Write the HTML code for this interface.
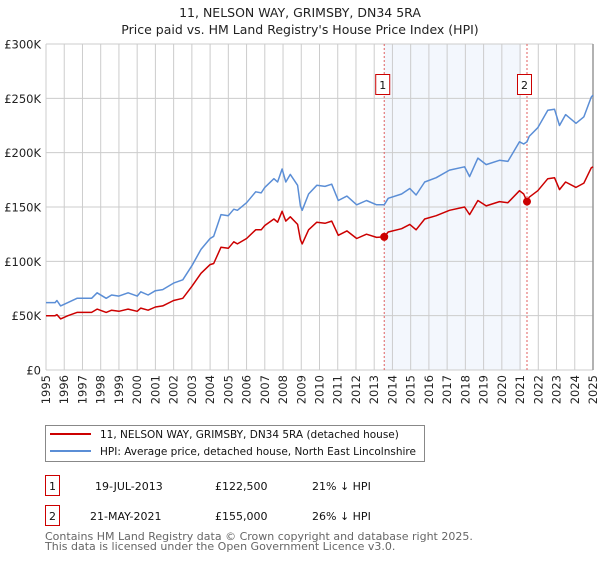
<!DOCTYPE html>
<html><head><meta charset="utf-8"><style>
body{margin:0;background:#fff;font-family:"DejaVu Sans","Liberation Sans",sans-serif;}
svg text{font-family:"DejaVu Sans","Liberation Sans",sans-serif;}
</style></head><body>
<svg id="chart" width="600" height="560" xmlns="http://www.w3.org/2000/svg">
<text x="300" y="17" text-anchor="middle" font-size="12.5" fill="#222">11, NELSON WAY, GRIMSBY, DN34 5RA</text>
<text x="300" y="34" text-anchor="middle" font-size="12.5" fill="#222">Price paid vs. HM Land Registry's House Price Index (HPI)</text>
<g id="plot"></g>
<g>
<rect x="45.5" y="425.5" width="379" height="36" fill="#fff" stroke="#888"/>
<line x1="50" y1="434" x2="91" y2="434" stroke="#cc0000" stroke-width="2"/>
<text x="100" y="438" font-size="10.5" fill="#111">11, NELSON WAY, GRIMSBY, DN34 5RA (detached house)</text>
<line x1="50" y1="451" x2="91" y2="451" stroke="#5b8ed6" stroke-width="2"/>
<text x="100" y="455" font-size="10.5" fill="#111" textLength="316" lengthAdjust="spacingAndGlyphs">HPI: Average price, detached house, North East Lincolnshire</text>
</g>
<g font-size="11" fill="#111">
<rect x="45.5" y="475.5" width="14" height="20" fill="#fff" stroke="#cc0000"/>
<text x="52.5" y="490" text-anchor="middle">1</text>
<text x="95" y="490">19-JUL-2013</text>
<text x="215" y="490">£122,500</text>
<text x="312" y="490">21% ↓ HPI</text>
</g>
<g font-size="11" fill="#111">
<rect x="45.5" y="505.5" width="14" height="20" fill="#fff" stroke="#cc0000"/>
<text x="52.5" y="520" text-anchor="middle">2</text>
<text x="90" y="520">21-MAY-2021</text>
<text x="215" y="520">£155,000</text>
<text x="312" y="520">26% ↓ HPI</text>
</g>
<text x="45" y="540" font-size="11" fill="#666">Contains HM Land Registry data © Crown copyright and database right 2025.</text>
<text x="45" y="550" font-size="11" fill="#666">This data is licensed under the Open Government Licence v3.0.</text>
</svg>
<script>
const hpiYears=[1995.0,1995.5,1995.6,1995.8,1996.2,1996.7,1997.5,1997.8,1998.3,1998.6,1999.0,1999.5,2000.0,2000.2,2000.6,2001.0,2001.4,2002.0,2002.5,2003.0,2003.5,2004.0,2004.2,2004.6,2005.0,2005.3,2005.5,2006.0,2006.5,2006.8,2007.0,2007.5,2007.7,2007.95,2008.15,2008.4,2008.8,2008.95,2009.05,2009.4,2009.85,2010.3,2010.67,2011.03,2011.5,2012.04,2012.58,2013.13,2013.55,2013.77,2014.5,2014.95,2015.3,2015.77,2016.4,2017.13,2017.96,2018.23,2018.69,2019.14,2019.87,2020.33,2020.97,2021.2,2021.38,2021.5,2021.97,2022.52,2022.89,2023.16,2023.5,2024.07,2024.5,2024.9,2025.0];
const hpiValues=[62,62,64,59,62,66,66,71,66,69,68,71,68,72,69,73,74,80,83,96,111,121,123,143,142,148,147,154,164,163,168,176,173,185,173,180,170,151,147,162,170,169,171,156,160,152,156,152,152,158,162,167,161,173,177,184,187,178,195,189,193,192,210,208,210,215,223,239,240,225,235,227,233,251,253];
const priceValues=[50,50,51,47,50,53,53,56,53,55,54,56,54,57,55,58,59,64,66,77,89,97,98,113,112,118,116,121,129,129,133,139,136,146,137,141,134,120,116,129,136,135,137,124,128,121,125,122,122.5,127,130,134,129,139,142,147,150,143,156,151,155,154,165,162,155,159,165,176,177,166,173,168,172,186,187];
const saleYears=[2013.55,2021.38];
const salePrices=[122.5,155];
const saleLabels=["1","2"];
const yTicks=[0,50,100,150,200,250,300];
const yTickLabels=["£0","£50K","£100K","£150K","£200K","£250K","£300K"];
const xTicks=[1995,1996,1997,1998,1999,2000,2001,2002,2003,2004,2005,2006,2007,2008,2009,2010,2011,2012,2013,2014,2015,2016,2017,2018,2019,2020,2021,2022,2023,2024,2025];

const X0=46,X1=593,Y0=370,Y1=44;
const xs=y=>X0+(y-1995)/30*(X1-X0);
const ys=v=>Y0-v/300*(Y0-Y1);
const NS="http://www.w3.org/2000/svg";
const plot=document.getElementById('plot');
function mk(tag,attrs,parent){const e=document.createElementNS(NS,tag);for(const k in attrs)e.setAttribute(k,attrs[k]);(parent||plot).appendChild(e);return e;}

const bg=mk('rect',{x:X0,y:Y1,width:X1-X0,height:Y0-Y1,fill:'#fff'});


const shade=mk('rect',{x:xs(saleYears[0]),y:Y1,width:xs(2021.05)-xs(saleYears[0]),height:Y0-Y1,fill:'#eef3fc',opacity:0.7});



xTicks.forEach(t=>{
  const g=mk('line',{x1:xs(t),x2:xs(t),y1:Y1,y2:Y0,stroke:'#cccccc','stroke-width':1});
  
  
  const tx=mk('text',{x:0,y:0,'font-size':11.5,fill:'#222','text-anchor':'end',transform:`translate(${xs(t)+4},${Y0+5}) rotate(-90)`});
  tx.textContent=t;
  
  
});
yTicks.forEach((t,i)=>{
  const g=mk('line',{x1:X0,x2:X1,y1:ys(t),y2:ys(t),stroke:'#cccccc','stroke-width':1});
  
  
  const tx=mk('text',{x:41,y:ys(t)+4.5,'font-size':11.5,fill:'#222','text-anchor':'end'});
  tx.textContent=yTickLabels[i];
  
  
});
const edge=mk('line',{x1:X1,x2:X1,y1:Y1,y2:Y0,stroke:'#999','stroke-width':1.5});



saleYears.forEach((y,i)=>{
  const l=mk('line',{x1:xs(y),x2:xs(y),y1:Y1,y2:Y0,stroke:'#e06060','stroke-width':1,'stroke-dasharray':'2,2'});
  
  
});

function path(vals,color,name){
  let d='';
  hpiYears.forEach((y,i)=>{d+=(i?'L':'M')+xs(y).toFixed(1)+','+ys(vals[i]).toFixed(1);});
  const p=mk('path',{d:d,fill:'none',stroke:color,'stroke-width':1.5,'stroke-linejoin':'round'});
  
  
}
path(hpiValues,'#5b8ed6','hpi-line');
path(priceValues,'#cc0000','price-paid-line');

saleYears.forEach((y,i)=>{
  const c=mk('circle',{cx:xs(y),cy:ys(salePrices[i]),r:4,fill:'#cc0000'});
  
  
  const bx=xs(y)-(i===0?9:10);
  const r=mk('rect',{x:bx+0.5,y:74.5,width:14,height:20,fill:'#fff',stroke:'#cc0000'});
  
  
  const t=mk('text',{x:bx+7.5,y:89,'font-size':11,'text-anchor':'middle',fill:'#111'});
  t.textContent=saleLabels[i];
  
  
});
</script>
</body></html>
